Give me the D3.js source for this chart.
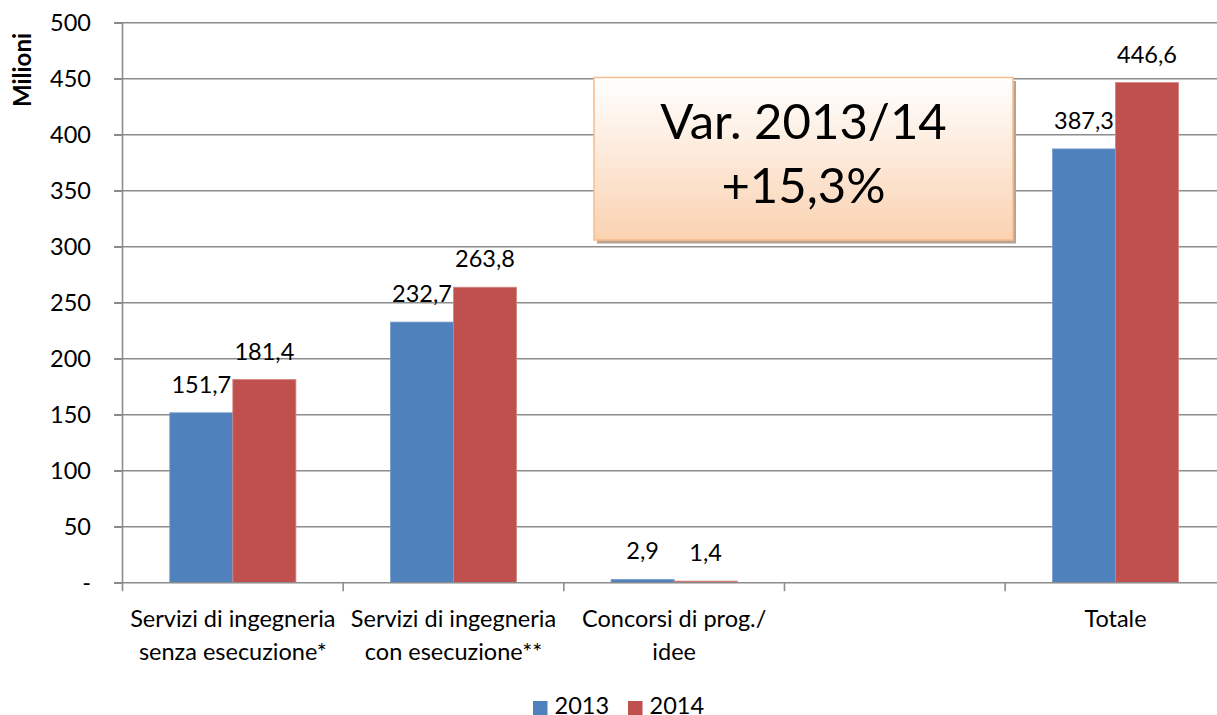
<!DOCTYPE html>
<html><head><meta charset="utf-8">
<script src="https://cdn.jsdelivr.net/npm/d3@7/dist/d3.min.js"></script>
<style>body{margin:0;background:#fff;}svg{display:block;font-family:Lato,"Open Sans",sans-serif;}</style>
</head><body>
<svg id="chart" width="1217" height="715"></svg>
<script>
const categories = [
  ["Servizi di ingegneria", "senza esecuzione*"],
  ["Servizi di ingegneria", "con esecuzione**"],
  ["Concorsi di prog./", "idee"],
  [""],
  ["Totale"]
];
const seriesNames = ["2013", "2014"];
const values2013 = [151.7, 232.7, 2.9, null, 387.3];
const values2014 = [181.4, 263.8, 1.4, null, 446.6];
const yTicks = [0, 50, 100, 150, 200, 250, 300, 350, 400, 450, 500];
const colors = ["#4f81bd", "#c0504d"];
const boxLines = ["Var. 2013/14", "+15,3%"];
const axisTitle = "Milioni";

(function () {
const svg = d3.select("#chart");
const pLeft = 122.5, pRight = 1225.8, pTop = 22.7, pBottom = 582.7;
const FS = 23.5;

const x0 = d3.scaleBand().domain(d3.range(categories.length)).range([pLeft, pRight]).paddingInner(0).paddingOuter(0);
const x1 = d3.scaleBand().domain(seriesNames).range([0, x0.bandwidth()]).paddingInner(0).paddingOuter(0.75);
const y = d3.scaleLinear().domain([0, 500]).range([pBottom, pTop]);

const fmt = v => d3.format(".1f")(v).replace(".", ",");

// gridlines
svg.append("g").selectAll("line").data(yTicks.filter(d => d > 0)).join("line")
  .attr("x1", pLeft - 8.5).attr("x2", 1217).attr("y1", d => y(d)).attr("y2", d => y(d))
  .attr("stroke", "#8c8c8c").attr("stroke-width", 1.6);

// y axis
const yAxis = d3.axisLeft(y).tickValues(yTicks).tickSize(8.5).tickPadding(23)
  .tickFormat(d => d === 0 ? "-" : d);
const gy = svg.append("g").attr("transform", `translate(${pLeft},0)`).call(yAxis);
gy.select(".domain").attr("stroke", "#8c8c8c").attr("stroke-width", 1.6).attr("d", `M0,${pTop}V${pBottom}`);
gy.selectAll(".tick line").attr("stroke", "#8c8c8c").attr("stroke-width", 1.6);
gy.selectAll(".tick text").attr("font-size", FS).attr("fill", "#000").attr("font-family", "Lato");

// bars
const series = [values2013, values2014];
const gBars = svg.append("g");
series.forEach((vals, si) => {
  gBars.selectAll(null).data(vals.map((v, i) => ({v, i})).filter(d => d.v != null)).join("rect")
    .attr("x", d => x0(d.i) + x1(seriesNames[si]))
    .attr("y", d => y(d.v))
    .attr("width", x1.bandwidth())
    .attr("height", d => y(0) - y(d.v))
    .attr("fill", colors[si])
    .attr("stroke", si === 0 ? "#7a9dcb" : "#d48481").attr("stroke-width", 0.8);
});

// x axis
const gx = svg.append("g").attr("transform", `translate(0,${pBottom})`);
gx.append("line").attr("x1", pLeft - 8.5).attr("x2", 1217).attr("y1", 0).attr("y2", 0)
  .attr("stroke", "#8c8c8c").attr("stroke-width", 1.6);
const tickXs = d3.range(categories.length).map(i => x0(i));
gx.selectAll(".xt").data(tickXs).join("line").attr("class", "xt")
  .attr("x1", d => d).attr("x2", d => d).attr("y1", 0).attr("y2", 8.5)
  .attr("stroke", "#8c8c8c").attr("stroke-width", 1.6);
categories.forEach((lines, i) => {
  const t = gx.append("text").attr("text-anchor", "middle").attr("font-size", FS).attr("fill", "#000");
  lines.forEach((ln, k) => {
    t.append("tspan").attr("x", x0(i) + x0.bandwidth() / 2).attr("y", 44 + k * 33.3).text(ln);
  });
});

// data labels
series.forEach((vals, si) => {
  svg.append("g").selectAll("text").data(vals.map((v, i) => ({v, i})).filter(d => d.v != null)).join("text")
    .attr("x", d => x0(d.i) + x1(seriesNames[si]) + x1.bandwidth() / 2)
    .attr("y", d => y(d.v) - 20)
    .attr("text-anchor", "middle").attr("font-size", FS).attr("fill", "#000")
    .text(d => fmt(d.v));
});

// y axis title
svg.append("text").attr("transform", "translate(31,70) rotate(-90)")
  .attr("text-anchor", "middle").attr("font-size", 24).attr("font-weight", "bold").text(axisTitle);

// annotation box
const defs = svg.append("defs");
const grad = defs.append("linearGradient").attr("id", "bg").attr("x1", 0).attr("x2", 0).attr("y1", 0).attr("y2", 1);
grad.append("stop").attr("offset", "0%").attr("stop-color", "#ffffff");
grad.append("stop").attr("offset", "100%").attr("stop-color", "#fad2b1");
const bx = 594, by = 77.5, bw = 419, bh = 162.5;
svg.append("rect").attr("x", bx + 3).attr("y", by + 3.5).attr("width", bw).attr("height", bh).attr("fill", "#b9a28f");
svg.append("rect").attr("x", bx).attr("y", by).attr("width", bw).attr("height", bh)
  .attr("fill", "url(#bg)").attr("stroke", "#f9bf8f").attr("stroke-width", 1.6);
boxLines.forEach((ln, k) => {
  svg.append("text").attr("x", bx + bw / 2).attr("y", 139 + k * 64).attr("text-anchor", "middle")
    .attr("font-size", 49).attr("fill", "#000").text(ln);
});

// legend
const legX = [533, 628];
seriesNames.forEach((s, i) => {
  svg.append("rect").attr("x", legX[i]).attr("y", 701).attr("width", 14.5).attr("height", 14.5).attr("fill", colors[i]);
  svg.append("text").attr("x", legX[i] + 21.5).attr("y", 713.5).attr("font-size", FS).attr("fill", "#000").text(s);
});
})();
</script>
</body></html>
